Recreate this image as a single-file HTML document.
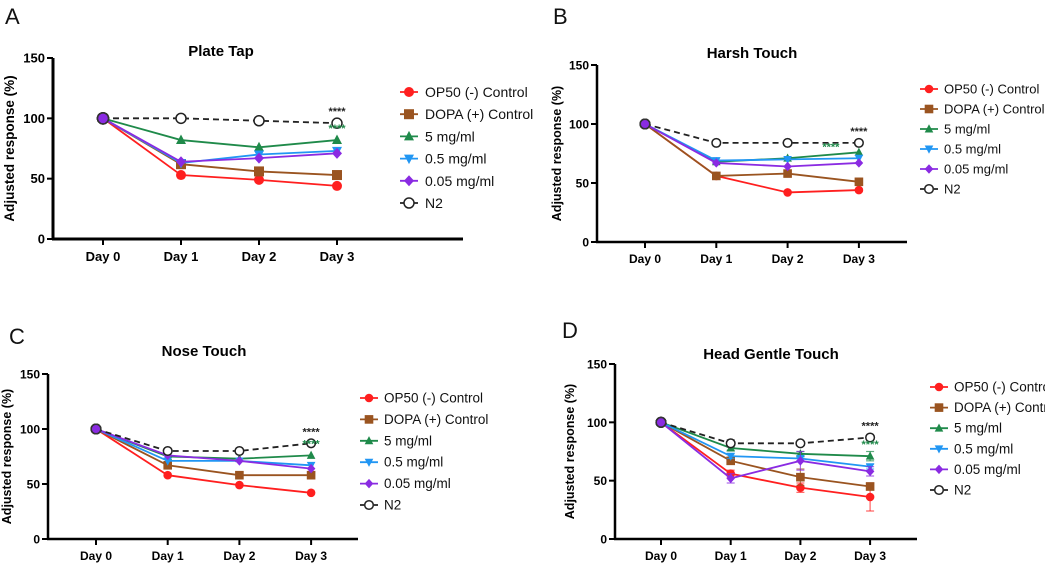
<!DOCTYPE html>
<html><head><meta charset="utf-8"><style>
body{margin:0;background:#fff;width:1045px;height:565px;overflow:hidden}
svg text{font-family:"Liberation Sans",Arial,sans-serif}
</style></head><body>
<svg id="fig" width="1045" height="565" viewBox="0 0 1045 565" xmlns="http://www.w3.org/2000/svg"></svg>
<script>
const days = ["Day 0","Day 1","Day 2","Day 3"];
const yTicks = [0,50,100,150];
const seriesNames = ["OP50 (-) Control","DOPA (+) Control","5 mg/ml","0.5 mg/ml","0.05 mg/ml","N2"];
const titles = ["Plate Tap","Harsh Touch","Nose Touch","Head Gentle Touch"];
const letters = ["A","B","C","D"];
const plateOP50 = [100,53,49,44], plateDOPA = [100,62,56,53], plate5 = [100,82,76,82], plate05 = [100,63,70,73], plate005 = [100,64,67,71], plateN2 = [100,100,98,96];
const harshOP50 = [100,56,42,44], harshDOPA = [100,56,58,51], harsh5 = [100,68,71,76], harsh05 = [100,69,70,71], harsh005 = [100,67,64,67], harshN2 = [100,84,84,84];
const noseOP50 = [100,58,49,42], noseDOPA = [100,67,58,58], nose5 = [100,75,73,76], nose05 = [100,71,71,67], nose005 = [100,76,71,64], noseN2 = [100,80,80,87];
const headOP50 = [100,56,44,36], headDOPA = [100,67,53,45], head5 = [100,78,73,71], head05 = [100,71,69,62], head005 = [100,52,67,58], headN2 = [100,82,82,87];
const headErrOP50 = [0,3,4,12], headErrDOPA = [0,2,7,3], headErr5 = [0,2,2,4], headErr05 = [0,2,2,2], headErr005 = [0,4,8,4], headErrN2 = [0,3,2,1];

const panelData = [
 [plateOP50,plateDOPA,plate5,plate05,plate005,plateN2],
 [harshOP50,harshDOPA,harsh5,harsh05,harsh005,harshN2],
 [noseOP50,noseDOPA,nose5,nose05,nose005,noseN2],
 [headOP50,headDOPA,head5,head05,head005,headN2]];
const panelErr = [null,null,null,[headErrOP50,headErrDOPA,headErr5,headErr05,headErr005,headErrN2]];
const colors = ["#ff1f1f","#9a5420","#1f8a4a","#2196f3","#8a2be2","#222"];
const markers = ["circle","square","tri","tridown","diamond","open"];
const L = [
 {ax:53,y0:239,y150:58,x0:103,dx:78,xe:463,lx:400,ly:92,ldy:22.2,fs:14,tx:221,ty:56,lt:[5,24],tfs:15,ylx:14},
 {ax:597,y0:242,y150:65,x0:645,dx:71.3,xe:907,lx:920,ly:89,ldy:20,fs:13,tx:752,ty:58,lt:[553,24],tfs:15,ylx:561},
 {ax:48,y0:539,y150:374,x0:96,dx:71.7,xe:358,lx:360,ly:398,ldy:21.4,fs:13.5,tx:204,ty:356,lt:[9,344],tfs:15,ylx:11},
 {ax:615,y0:539,y150:364,x0:661,dx:69.7,xe:917,lx:930,ly:387,ldy:20.6,fs:13.5,tx:771,ty:359,lt:[562,338],tfs:15,ylx:574}];
const NS="http://www.w3.org/2000/svg";
const svg=document.getElementById('fig');
function mk(tag,attrs,parent,text){const e=document.createElementNS(NS,tag);for(const k in attrs)e.setAttribute(k,attrs[k]);if(text!=null)e.textContent=text;(parent||svg).appendChild(e);return e;}
function marker(g,type,x,y,c,r){
 let e;
 if(type=="circle")e=mk('circle',{cx:x,cy:y,r:r,fill:c},g);
 else if(type=="square")e=mk('rect',{x:x-r,y:y-r,width:2*r,height:2*r,fill:c},g);
 else if(type=="tri")e=mk('polygon',{points:`${x},${y-r*1.1} ${x-r},${y+r*0.8} ${x+r},${y+r*0.8}`,fill:c},g);
 else if(type=="tridown")e=mk('polygon',{points:`${x},${y+r*1.1} ${x-r},${y-r*0.8} ${x+r},${y-r*0.8}`,fill:c},g);
 else if(type=="diamond")e=mk('polygon',{points:`${x},${y-r*1.1} ${x+r},${y} ${x},${y+r*1.1} ${x-r},${y}`,fill:c},g);
 else {e=mk('circle',{cx:x,cy:y,r:r,fill:'#fff',stroke:c,'stroke-width':1.5},g);}
 return e;
}
L.forEach((p,pi)=>{
 const g=mk('g',{});
 
 
 const ys=v=>p.y0-(v/150)*(p.y0-p.y150);
 const xs=i=>p.x0+i*p.dx;
 const big=pi==0;
 const lt=mk('text',{x:p.lt[0],y:p.lt[1],'font-size':22,fill:'#111'},g,letters[pi]);
 
 
 const t=mk('text',{x:p.tx,y:p.ty,'font-size':p.tfs,'font-weight':'bold','text-anchor':'middle'},g,titles[pi]);
 
 
 const ya=mk('line',{x1:p.ax,y1:p.y150,x2:p.ax,y2:p.y0+1,stroke:'#000','stroke-width':big?3:2.5},g);
 
 
 const xa=mk('line',{x1:p.ax-1,y1:p.y0,x2:p.xe,y2:p.y0,stroke:'#000','stroke-width':big?3:2.5},g);
 
 
 yTicks.forEach(v=>{
  mk('line',{x1:p.ax-6,y1:ys(v),x2:p.ax,y2:ys(v),stroke:'#000','stroke-width':2},g);
  const tl=mk('text',{x:p.ax-8,y:ys(v)+4.5,'font-size':big?13:12,'font-weight':'bold','text-anchor':'end'},g,String(v));
  
  
 });
 days.forEach((d,i)=>{
  mk('line',{x1:xs(i),y1:p.y0,x2:xs(i),y2:p.y0+6,stroke:'#000','stroke-width':2},g);
  const tl=mk('text',{x:xs(i),y:p.y0+(big?22:21),'font-size':big?13:12,'font-weight':'bold','text-anchor':'middle'},g,d);
  
  
 });
 const ymid=(p.y0+p.y150)/2;
 const yt=mk('text',{x:p.ylx,y:ymid,'font-size':big?13.5:12.5,'font-weight':'bold','text-anchor':'middle',transform:`rotate(-90 ${p.ylx} ${ymid})`},g,'Adjusted response (%)');
 
 
 const data=panelData[pi], err=panelErr[pi];
 const r=big?5:4.3;
 data.forEach((vals,si)=>{
  const sg=mk('g',{},g);
  
  
  const pts=vals.map((v,i)=>xs(i)+','+ys(v)).join(' ');
  mk('polyline',{points:pts,fill:'none',stroke:colors[si],'stroke-width':1.8,'stroke-dasharray':si==5?'6,4':'none'},sg);
  vals.forEach((v,i)=>{
   if(err&&err[si][i]>0){
    const e=err[si][i];
    mk('line',{x1:xs(i),y1:ys(v-e),x2:xs(i),y2:ys(v+e),stroke:colors[si],'stroke-width':1.2,opacity:0.7},sg);
    mk('line',{x1:xs(i)-4,y1:ys(v-e),x2:xs(i)+4,y2:ys(v-e),stroke:colors[si],'stroke-width':1.2,opacity:0.7},sg);
    mk('line',{x1:xs(i)-4,y1:ys(v+e),x2:xs(i)+4,y2:ys(v+e),stroke:colors[si],'stroke-width':1.2,opacity:0.7},sg);
   }
   const m=marker(sg,i==0?'circle':markers[si],xs(i),ys(v),i==0?'#8a2be2':colors[si],i==0?r+0.5:r);
   if(i==0){m.setAttribute('stroke','#333');m.setAttribute('stroke-width','1.5');}
   
   
  });
 });
 const s1=mk('text',{x:xs(3),y:ys(data[5][3])-8,'font-size':11,'font-weight':'bold','text-anchor':'middle',fill:'#222'},g,'****');
 
 
 const s2=mk('text',{x:pi==1?xs(3)-28:xs(3),y:pi==1?ys(data[2][3])-2:ys(data[2][3])-8,'font-size':11,'font-weight':'bold','text-anchor':'middle',fill:'#1f8a4a'},g,'****');
 
 
 const lg=mk('g',{},g);
 
 
 seriesNames.forEach((n,si)=>{
  const y=p.ly+si*p.ldy;
  const eg=mk('g',{},lg);
  
  
  mk('line',{x1:p.lx,y1:y,x2:p.lx+18,y2:y,stroke:colors[si],'stroke-width':1.8,'stroke-dasharray':si==5?'4,3':'none'},eg);
  marker(eg,markers[si],p.lx+9,y,colors[si],big?5:4.3);
  mk('text',{x:p.lx+(big?25:24),y:y+(big?5:4.5),'font-size':p.fs,fill:'#111'},eg,n);
 });
});
</script>
</body></html>
